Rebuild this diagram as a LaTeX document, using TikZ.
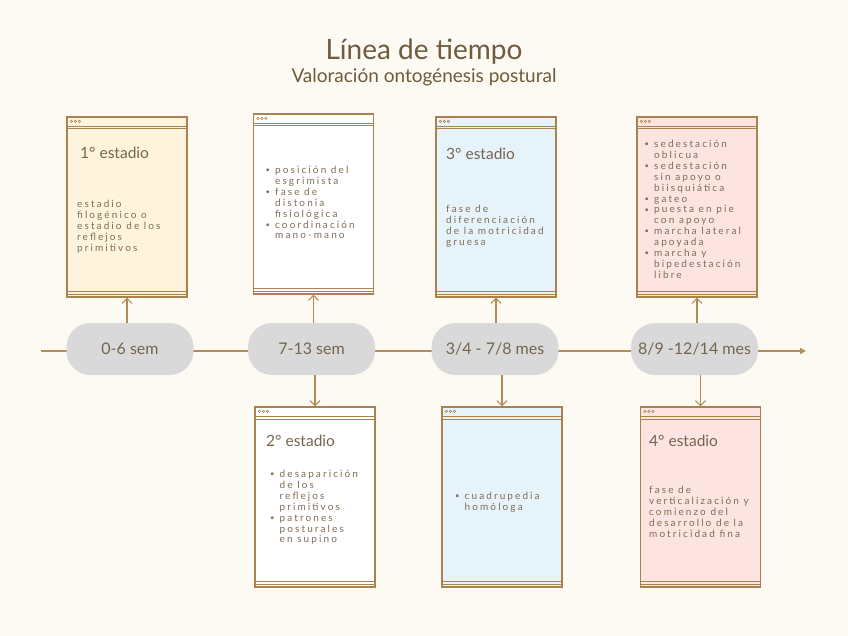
\documentclass[tikz,border=0pt]{standalone}
\usepackage{fontspec}
\usepackage{graphicx}
\setmainfont{Lato}
\newfontfamily\bodyfont[LetterSpace=21]{Lato}
\usetikzlibrary{arrows.meta}
\definecolor{bgc}{HTML}{FDF9F3}
\definecolor{brd}{HTML}{A8834F}
\definecolor{lnc}{HTML}{B08D57}
\definecolor{fyel}{HTML}{FEF4DD}
\definecolor{fblu}{HTML}{E7F3FB}
\definecolor{fpnk}{HTML}{FDE4E1}
\definecolor{pillc}{HTML}{D9D9D9}
\definecolor{txtc}{HTML}{7F6C55}
\definecolor{headc}{HTML}{75654F}
\definecolor{titc}{HTML}{6D5C3D}
\newcommand\bul{\makebox[9.5pt][l]{\raisebox{0.8pt}{\scalebox{0.75}{\textbullet}}}}
\newcommand\ind{\hspace*{9.5pt}}
\newcommand\chrome[1]{%
  \draw[brd, line width=0.9pt] ([yshift=-10pt]#1.north west) -- ([yshift=-10pt]#1.north east);
  \draw[brd, line width=0.7pt] ([yshift=-12.5pt]#1.north west) -- ([yshift=-12.5pt]#1.north east);
  \draw[brd, line width=0.9pt] ([yshift=6pt]#1.south west) -- ([yshift=6pt]#1.south east);
  \draw[brd, line width=0.7pt] ([yshift=3.5pt]#1.south west) -- ([yshift=3.5pt]#1.south east);
  \foreach \k in {5,9,13} \draw[brd, line width=0.5pt] ([xshift=\k pt, yshift=-5pt]#1.north west) circle (1.3pt);
}
\tikzset{
  win/.style={draw=brd, line width=1.3pt, minimum width=120pt, minimum height=180pt, inner sep=0pt},
  pill/.style={fill=pillc, rounded corners=24pt, minimum width=127pt, minimum height=52pt, inner sep=0pt,
    text=headc, font=\fontsize{16}{18}\selectfont},
  head/.style={anchor=west, inner sep=0pt, text=headc, font=\fontsize{15.5}{18}\selectfont},
  body/.style={anchor=north west, inner sep=0pt, align=left, text=txtc, font=\bodyfont\fontsize{10}{10.9}\selectfont},
  arr/.style={draw=lnc, line width=1.1pt, -{Straight Barb[length=5pt, width=10pt]}},
}
\begin{document}
\begin{tikzpicture}[x=1pt, y=-1pt]
\fill[bgc] (0,0) rectangle (848,636);
\useasboundingbox (0,0) rectangle (848,636);

\node[text=titc, font=\fontsize{28}{30}\selectfont] (title) at (424,52) {Línea de tiempo};
\node[text=titc, font=\fontsize{19}{21}\selectfont] (sub) at (424,77) {Valoración ontogénesis postural};

% main line
\coordinate (ls) at (41,351);
\coordinate (le) at (806,351);
\draw[lnc, line width=1.3pt, -{Triangle[length=6pt, width=6pt]}] (ls) -- (le);

% pills
\node[pill] (p1) at (130,349) {0-6 sem};
\node[pill] (p2) at (311.5,349) {7-13 sem};
\node[pill] (p3) at (495,349) {3/4 - 7/8 mes};
\node[pill] (p4) at (694.5,349) {8/9 -12/14 mes};

% boxes
\node[win, fill=fyel] (b1) at (127,207) {};
\node[win, fill=white] (b2) at (313.5,204) {};
\node[win, fill=fblu] (b3) at (496,207) {};
\node[win, fill=fpnk] (b4) at (697,207) {};
\node[win, fill=white] (b5) at (315,497) {};
\node[win, fill=fblu] (b6) at (502,497) {};
\node[win, fill=fpnk] (b7) at (700.5,497) {};
\chrome{b1}\chrome{b2}\chrome{b3}\chrome{b4}\chrome{b5}\chrome{b6}\chrome{b7}

% arrows
\draw[arr] (b1.south |- p1.north) -- (b1.south);
\draw[arr] (b2.south |- p2.north) -- (b2.south);
\draw[arr] (b3.south |- p3.north) -- (b3.south);
\draw[arr] (b4.south |- p4.north) -- (b4.south);
\draw[arr] (b5.north |- p2.south) -- (b5.north);
\draw[arr] (b6.north |- p3.south) -- (b6.north);
\draw[arr] (b7.north |- p4.south) -- (b7.north);

% texts
\node[head] (h1) at (80,153) {1° estadio};
\node[body] (t1) at (77,200) {estadio\\filogénico o\\estadio de los\\reflejos\\primitivos};

\node[body] (t2) at (265.5,166) {\bul posición del\\\ind esgrimista\\\bul fase de\\\ind distonia\\\ind fisiológica\\\bul coordinación\\\ind mano-mano};

\node[head] (h3) at (446,154) {3° estadio};
\node[body] (t3) at (446,205) {fase de\\diferenciación\\de la motricidad\\gruesa};

\node[body] (t4) at (644.5,140) {\bul sedestación\\\ind oblicua\\\bul sedestación\\\ind sin apoyo o\\\ind biisquiática\\\bul gateo\\\bul puesta en pie\\\ind con apoyo\\\bul marcha lateral\\\ind apoyada\\\bul marcha y\\\ind bipedestación\\\ind libre};

\node[head] (h5) at (266,441) {2° estadio};
\node[body] (t5) at (270,470) {\bul desaparición\\\ind de los\\\ind reflejos\\\ind primitivos\\\bul patrones\\\ind posturales\\\ind en supino};

\node[body] (t6) at (455,492) {\bul cuadrupedia\\\ind homóloga};

\node[head] (h7) at (649,441) {4° estadio};
\node[body] (t7) at (649,486) {fase de\\verticalización y\\comienzo del\\desarrollo de la\\motricidad fina};
\end{tikzpicture}
\end{document}
